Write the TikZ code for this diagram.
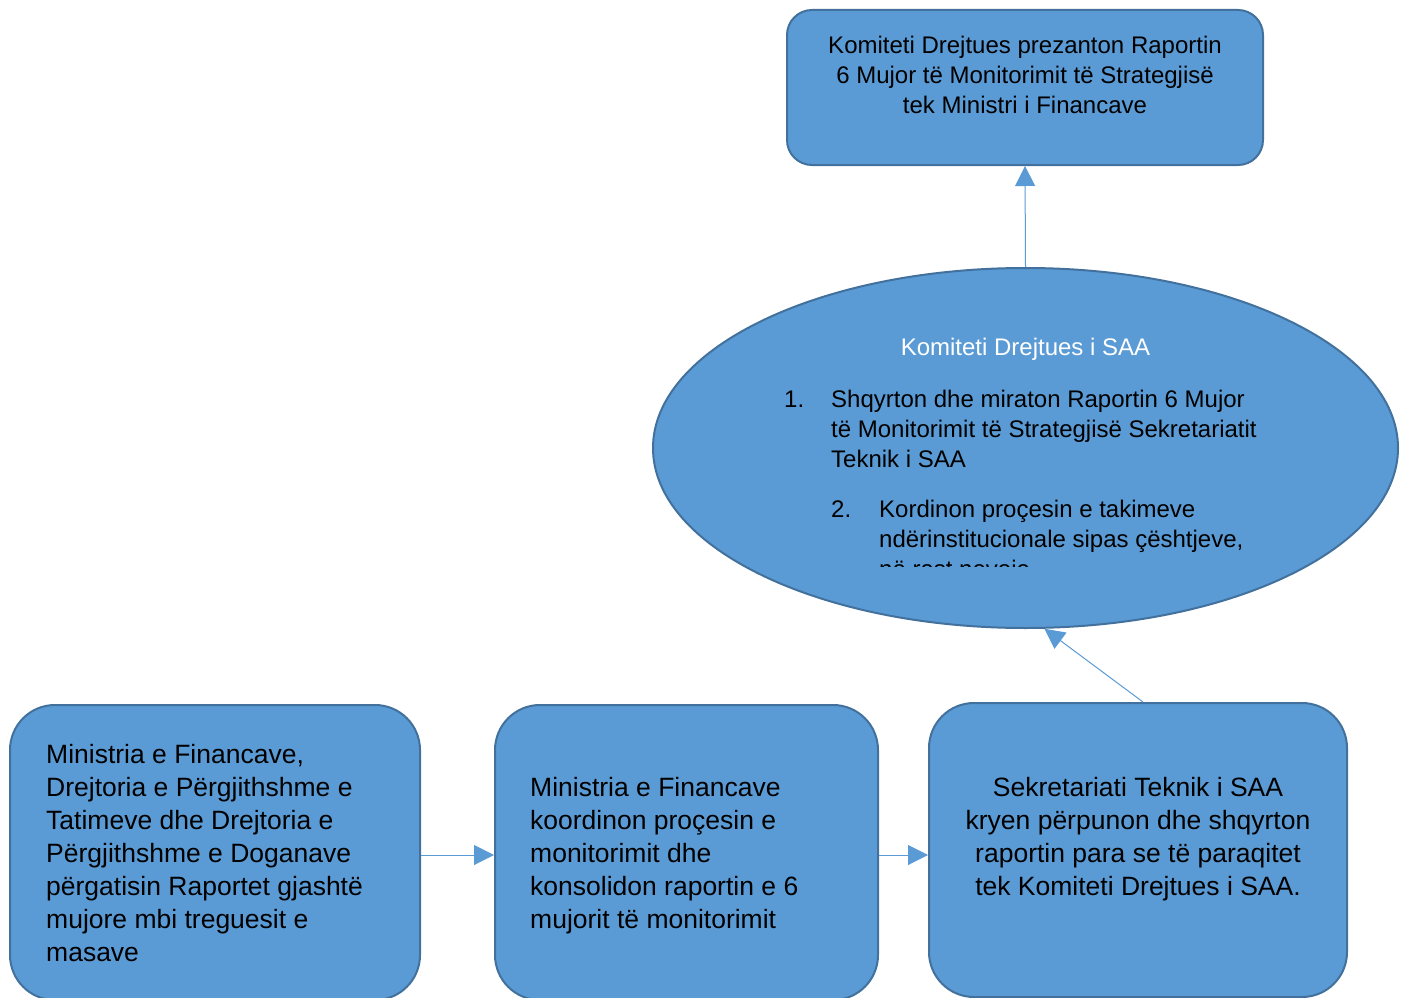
\documentclass[tikz,border=0pt]{standalone}
\usepackage{fontspec}
\setmainfont{Liberation Sans}
\usetikzlibrary{arrows.meta,shapes.geometric}
\definecolor{boxfill}{HTML}{5B9BD5}
\definecolor{boxline}{HTML}{41719C}
\begin{document}
\begin{tikzpicture}[x=1pt,y=-1pt,
  box/.style={draw=boxline,line width=2pt,fill=boxfill,rounded corners=#1,inner sep=0,rectangle},
  oval/.style={draw=boxline,line width=2pt,fill=boxfill,ellipse,inner sep=0},
  conn/.style={draw=boxfill,line width=1pt,-{Triangle[length=20pt,width=20pt]}},
  smalltxt/.style={font=\fontsize{24}{30}\selectfont,inner sep=0},
  bigtxt/.style={font=\fontsize{26.5}{33}\selectfont,inner sep=0}]
\useasboundingbox (0,0) rectangle (1406,998);
\clip (0,0) rectangle (1406,998);
\fill[white] (0,0) rectangle (1406,998);

% shapes
\node[box=25pt,minimum width=476pt,minimum height=155pt] (top) at (1025,87.5) {};
\node[oval,minimum width=745pt,minimum height=360pt] (ell) at (1025.5,448) {};
\node[box=45pt,minimum width=410pt,minimum height=295pt] (b1) at (215,852.5) {};
\node[box=45pt,minimum width=383pt,minimum height=295pt] (b2) at (686.5,852.5) {};
\node[box=45pt,minimum width=418pt,minimum height=294pt] (b3) at (1138,850) {};

% connectors
\draw[conn] (ell.north) -- (top.south);
\draw[conn] ([yshift=-2.5pt]b1.east) -- ([yshift=-2.5pt]b2.west);
\draw[conn] ([yshift=-2.5pt]b2.east) -- ([yshift=-2.5pt]b2.east -| b3.west);
\draw[conn] ([xshift=5pt]b3.north) -- (ell.-84);

% texts
\node[smalltxt,anchor=base] (ttop) at (1025,54)
  {\begin{tabular}[t]{@{}c@{}}Komiteti Drejtues prezanton Raportin\\6 Mujor të Monitorimit të Strategjisë\\tek Ministri i Financave\end{tabular}};
\node[smalltxt,anchor=base,text=white] (ttitle) at (1025.5,355) {Komiteti Drejtues i SAA};
\node[smalltxt,anchor=base west] (n1) at (784,407) {1.};
\node[smalltxt,anchor=base west] (i1) at (831,407)
  {\begin{tabular}[t]{@{}l@{}}Shqyrton dhe miraton Raportin 6 Mujor\\të Monitorimit të Strategjisë Sekretariatit\\Teknik i SAA\end{tabular}};
\node[smalltxt,anchor=base west] (n2) at (831,517) {2.};
\begin{scope}
\clip (800,470) rectangle (1300,566);
\node[smalltxt,anchor=base west] (i2) at (879,517)
  {\begin{tabular}[t]{@{}l@{}}Kordinon proçesin e takimeve\\ndërinstitucionale sipas çështjeve,\\në rast nevoje\end{tabular}};
\end{scope}
\node[bigtxt,anchor=base west] (t1) at (46,763)
  {\begin{tabular}[t]{@{}l@{}}Ministria e Financave,\\Drejtoria e Përgjithshme e\\Tatimeve dhe Drejtoria e\\Përgjithshme e Doganave\\përgatisin Raportet gjashtë\\mujore mbi treguesit e\\masave\end{tabular}};
\node[bigtxt,anchor=base west] (t2) at (530,796)
  {\begin{tabular}[t]{@{}l@{}}Ministria e Financave\\koordinon proçesin e\\monitorimit dhe\\konsolidon raportin e 6\\mujorit të monitorimit\end{tabular}};
\node[bigtxt,anchor=base] (t3) at (1138,796)
  {\begin{tabular}[t]{@{}c@{}}Sekretariati Teknik i SAA\\kryen përpunon dhe shqyrton\\raportin para se të paraqitet\\tek Komiteti Drejtues i SAA.\end{tabular}};
\end{tikzpicture}
\end{document}
